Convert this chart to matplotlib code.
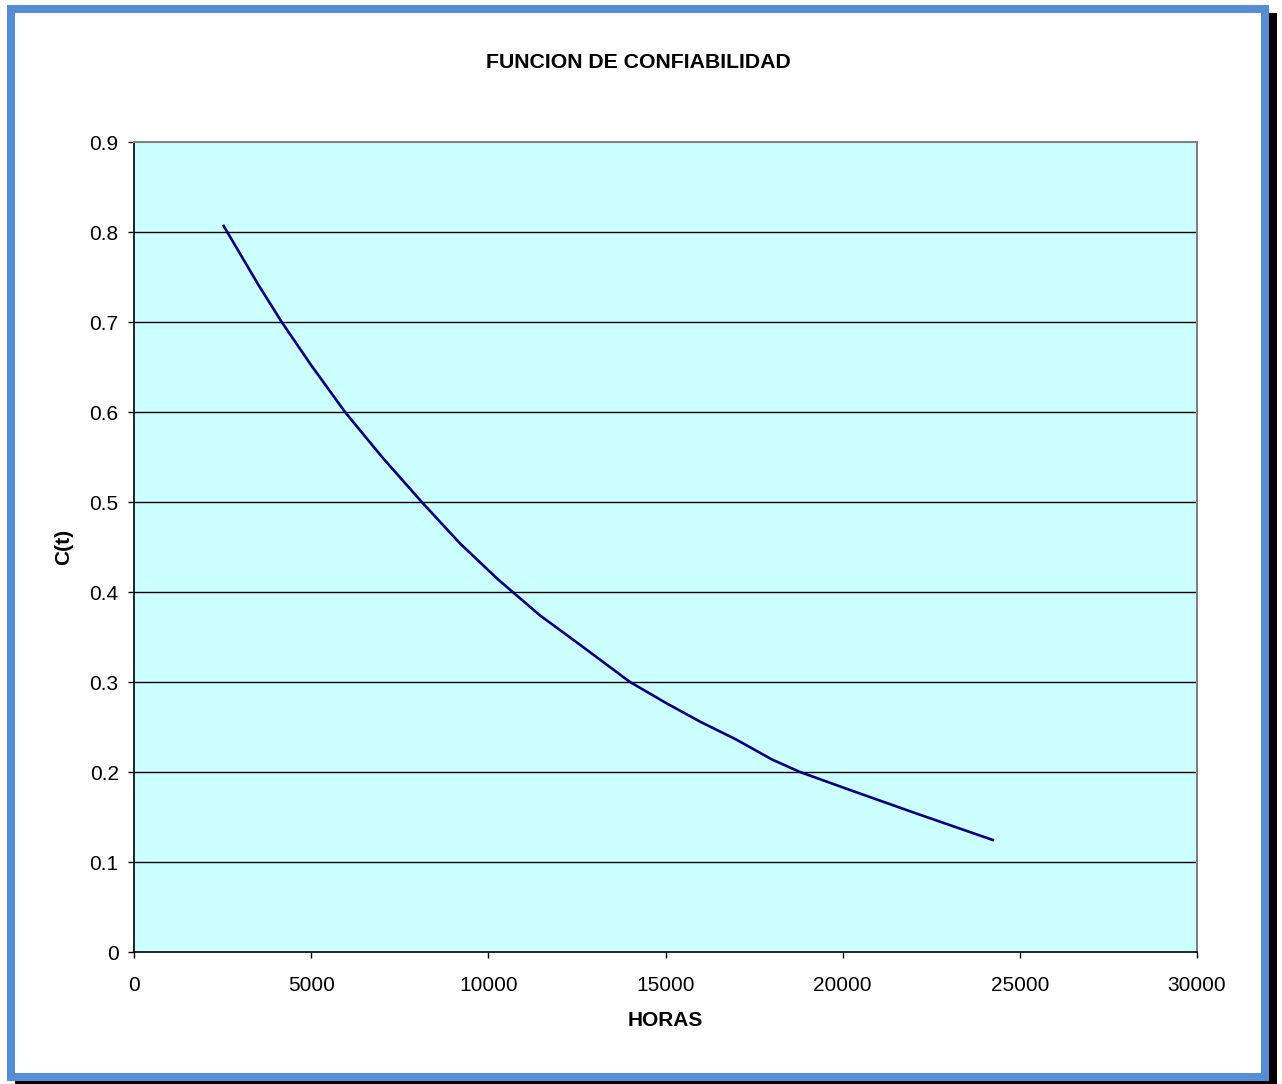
import matplotlib
matplotlib.use("Agg")
from matplotlib import pyplot as plt
from matplotlib.patches import Rectangle

plt.rcParams['font.family'] = ['Liberation Sans', 'DejaVu Sans']

# horas de operacion y confiabilidad C(t)
horas = [2512, 3500, 4168, 5000, 5955, 7000, 8120, 9200, 10273, 11458,
         12600, 13998, 15000, 15974, 17000, 18000, 18796, 20207, 22000, 24271]
conf = [0.808, 0.742, 0.700, 0.652, 0.600, 0.550, 0.500, 0.454, 0.414, 0.374,
        0.341, 0.300, 0.277, 0.256, 0.236, 0.214, 0.200, 0.180, 0.155, 0.124]

xticks = [0, 5000, 10000, 15000, 20000, 25000, 30000]
yticks = [0, 0.1, 0.2, 0.3, 0.4, 0.5, 0.6, 0.7, 0.8, 0.9]

W, H = 1282, 1084
fig = plt.figure(figsize=(W / 100, H / 100), dpi=100)
fig.patch.set_facecolor('white')

# marco azul con sombra negra
def px_rect(x0, y0, x1, y1, color):
    fig.patches.append(Rectangle((x0 / W, 1 - y1 / H), (x1 - x0) / W, (y1 - y0) / H,
                                 transform=fig.transFigure, facecolor=color,
                                 edgecolor='none', zorder=0))

px_rect(1269, 13, 1277, 1084, 'black')
px_rect(15, 1080.5, 1277, 1084, 'black')
azul = '#558ED5'
px_rect(7, 5, 1269, 13, azul)
px_rect(7, 1072.5, 1269, 1080.5, azul)
px_rect(7, 5, 15, 1080.5, azul)
px_rect(1261, 5, 1269, 1080.5, azul)

ax = fig.add_axes([134 / W, 1 - 952 / H, (1197 - 134) / W, (952 - 142) / H])
ax.set_facecolor('#CCFFFF')
ax.plot(horas, conf, color='#000080', linewidth=1.9, zorder=3,
        solid_joinstyle='round', solid_capstyle='butt')

ax.set_xlim(0, 30000)
ax.set_ylim(0, 0.9)
ax.set_xticks(xticks)
ax.set_yticks(yticks)
ax.set_xticklabels([str(v) for v in xticks])
ax.set_yticklabels(['0'] + ['%g' % v for v in yticks[1:]])
for v in yticks[1:-1]:
    ax.axhline(v, color='black', linewidth=1.0, zorder=1)

ax.tick_params(axis='both', direction='out', length=4.5, width=1.0,
               labelsize=15, color='black')
ax.tick_params(axis='x', pad=13)
ax.tick_params(axis='y', pad=6.5)
ax.spines['top'].set_color('#808080')
ax.spines['right'].set_color('#808080')
ax.spines['top'].set_linewidth(1.5)
ax.spines['right'].set_linewidth(1.5)
ax.spines['left'].set_color('black')
ax.spines['bottom'].set_color('black')
ax.spines['left'].set_linewidth(1.2)
ax.spines['bottom'].set_linewidth(1.2)

fig.text(638 / W, 1 - 63 / H, 'FUNCION DE CONFIABILIDAD', ha='center', va='center',
         fontsize=15.3, fontweight='bold')
fig.text(64 / W, 1 - 547 / H, 'C(t)', ha='center', va='center', rotation=90,
         fontsize=15, fontweight='bold')
fig.text(665 / W, 1 - 1021 / H, 'HORAS', ha='center', va='center',
         fontsize=15, fontweight='bold')

fig.savefig('out.png', dpi=100)
